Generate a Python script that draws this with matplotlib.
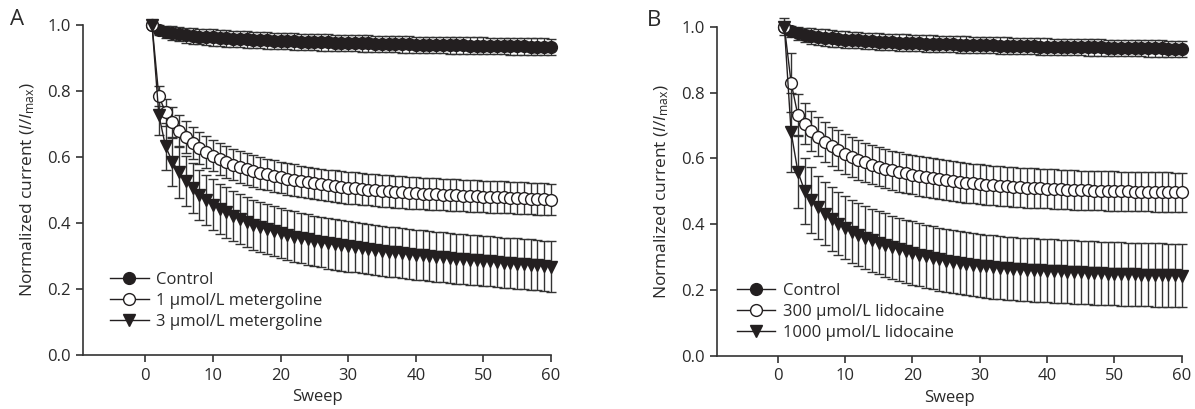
import numpy as np
import matplotlib
matplotlib.use('Agg')
import matplotlib.pyplot as plt

plt.rcParams['font.family'] = ['Open Sans', 'DejaVu Sans']
plt.rcParams['mathtext.fontset'] = 'custom'
plt.rcParams['mathtext.rm'] = 'Open Sans'
plt.rcParams['mathtext.it'] = 'Open Sans:italic'

sweeps = list(range(1, 61))

# panel A: metergoline
ctrl_a = [1.000, 0.985, 0.979, 0.975, 0.972, 0.969, 0.967, 0.965, 0.963, 0.962,
          0.960, 0.959, 0.958, 0.957, 0.956, 0.955, 0.954, 0.953, 0.952, 0.952,
          0.951, 0.950, 0.949, 0.949, 0.948, 0.947, 0.947, 0.946, 0.946, 0.945,
          0.945, 0.944, 0.944, 0.943, 0.943, 0.942, 0.942, 0.941, 0.941, 0.940,
          0.940, 0.940, 0.939, 0.939, 0.938, 0.938, 0.938, 0.937, 0.937, 0.937,
          0.936, 0.936, 0.936, 0.935, 0.935, 0.935, 0.934, 0.934, 0.934, 0.933]
ctrl_a_err = [0.005, 0.015, 0.019, 0.021, 0.022, 0.023, 0.024, 0.024, 0.025, 0.025] + [0.025] * 50

met1 = [1.000, 0.785, 0.735, 0.705, 0.680, 0.660, 0.643, 0.628, 0.615, 0.604,
        0.594, 0.585, 0.577, 0.570, 0.563, 0.557, 0.552, 0.547, 0.542, 0.538,
        0.534, 0.530, 0.526, 0.523, 0.520, 0.517, 0.514, 0.512, 0.509, 0.507,
        0.505, 0.503, 0.501, 0.499, 0.497, 0.496, 0.494, 0.493, 0.491, 0.490,
        0.489, 0.488, 0.487, 0.486, 0.485, 0.484, 0.483, 0.482, 0.481, 0.480,
        0.479, 0.478, 0.478, 0.477, 0.476, 0.475, 0.474, 0.473, 0.472, 0.471]
met1_err = [0.008, 0.030, 0.042, 0.046, 0.048] + [0.048] * 55

met3 = [1.000, 0.728, 0.632, 0.586, 0.553, 0.527, 0.505, 0.486, 0.470, 0.456,
        0.443, 0.432, 0.421, 0.412, 0.403, 0.395, 0.388, 0.381, 0.375, 0.369,
        0.364, 0.359, 0.354, 0.350, 0.346, 0.342, 0.338, 0.335, 0.332, 0.329,
        0.326, 0.323, 0.320, 0.318, 0.315, 0.313, 0.311, 0.308, 0.306, 0.304,
        0.302, 0.300, 0.298, 0.296, 0.294, 0.292, 0.290, 0.289, 0.287, 0.285,
        0.284, 0.282, 0.280, 0.279, 0.277, 0.275, 0.274, 0.272, 0.270, 0.268]
met3_err = [0.008, 0.060, 0.070, 0.075, 0.078] + [0.076] * 55

# panel B: lidocaine
ctrl_b = [1.000, 0.986, 0.980, 0.975, 0.972, 0.969, 0.967, 0.965, 0.963, 0.961,
          0.960, 0.959, 0.957, 0.956, 0.955, 0.954, 0.953, 0.952, 0.952, 0.951,
          0.950, 0.949, 0.949, 0.948, 0.947, 0.947, 0.946, 0.946, 0.945, 0.945,
          0.944, 0.944, 0.943, 0.943, 0.942, 0.942, 0.941, 0.941, 0.940, 0.940,
          0.939, 0.939, 0.939, 0.938, 0.938, 0.937, 0.937, 0.937, 0.936, 0.936,
          0.936, 0.935, 0.935, 0.935, 0.934, 0.934, 0.934, 0.933, 0.933, 0.933]
ctrl_b_err = [0.026, 0.016, 0.020, 0.022, 0.023] + [0.025] * 55

lido300 = [1.000, 0.830, 0.732, 0.705, 0.684, 0.666, 0.650, 0.637, 0.625, 0.614,
           0.604, 0.596, 0.588, 0.581, 0.575, 0.569, 0.564, 0.559, 0.555, 0.551,
           0.547, 0.543, 0.540, 0.537, 0.534, 0.531, 0.529, 0.526, 0.524, 0.522,
           0.520, 0.518, 0.517, 0.515, 0.514, 0.512, 0.511, 0.510, 0.509, 0.508,
           0.507, 0.506, 0.505, 0.504, 0.503, 0.503, 0.502, 0.502, 0.501, 0.501,
           0.500, 0.500, 0.499, 0.499, 0.499, 0.498, 0.498, 0.498, 0.497, 0.497]
lido300_err = [0.010, 0.090, 0.065, 0.062, 0.060] + [0.060] * 55

lido1000 = [1.000, 0.680, 0.560, 0.502, 0.475, 0.452, 0.432, 0.416, 0.402, 0.390,
            0.378, 0.368, 0.359, 0.351, 0.344, 0.337, 0.330, 0.324, 0.318, 0.313,
            0.308, 0.303, 0.298, 0.294, 0.290, 0.286, 0.283, 0.280, 0.277, 0.274,
            0.272, 0.270, 0.268, 0.266, 0.265, 0.263, 0.262, 0.261, 0.260, 0.259,
            0.258, 0.257, 0.256, 0.255, 0.254, 0.253, 0.252, 0.251, 0.250, 0.250,
            0.249, 0.248, 0.248, 0.247, 0.247, 0.246, 0.246, 0.245, 0.245, 0.244]
lido1000_err = [0.010, 0.120, 0.110, 0.100, 0.100] + [0.096] * 55

labels_a = ['Control', '1 μmol/L metergoline', '3 μmol/L metergoline']
labels_b = ['Control', '300 μmol/L lidocaine', '1000 μmol/L lidocaine']

ink = '#231f20'
txt = '#2a2a2a'

fig = plt.figure(figsize=(11.95, 4.09), dpi=100)
ax_a = fig.add_axes([0.0695, 0.132, 0.3916, 0.807])
ax_b = fig.add_axes([0.600, 0.1296, 0.389, 0.805])


def draw_panel(ax, series, labels, xmin, leg_anchor):
    styles = [dict(marker='o', mfc=ink, mec=ink),
              dict(marker='o', mfc='white', mec=ink),
              dict(marker='v', mfc=ink, mec=ink)]
    handles = []
    for (y, err), st, lab in zip(series, styles, labels):
        eb = ax.errorbar(sweeps, y, yerr=err, color=ink, lw=1.0, ms=8.5, mew=1.0,
                         elinewidth=1.0, capsize=3.5, capthick=1.0,
                         ecolor='#333333', label=lab, clip_on=False, **st)
        for art in eb.lines[1] + eb.lines[2]:
            art.set_clip_on(False)
        handles.append(eb)
    ax.set_xlim(xmin, 60)
    ax.set_ylim(0, 1.0)
    ax.set_xticks([0, 10, 20, 30, 40, 50, 60])
    ax.set_yticks([0.0, 0.2, 0.4, 0.6, 0.8, 1.0])
    ax.set_yticklabels(['0.0', '0.2', '0.4', '0.6', '0.8', '1.0'])
    for s in ['top', 'right']:
        ax.spines[s].set_visible(False)
    for s in ['left', 'bottom']:
        ax.spines[s].set_linewidth(1.2)
        ax.spines[s].set_color('#333333')
    ax.tick_params(direction='out', length=5, width=1.2, color='#333333',
                   labelsize=12, labelcolor=txt, pad=4)
    ax.set_xlabel('Sweep', fontsize=12, color=txt, labelpad=4)
    ax.set_ylabel(r'Normalized current ($\mathit{I}$/$\mathit{I}_{\mathrm{max}}$)',
                  fontsize=12.5, color=txt, labelpad=7)
    leg = ax.legend(handles=[h.lines[0] for h in handles], labels=labels,
                    loc='lower left', bbox_to_anchor=leg_anchor, frameon=False,
                    fontsize=12, handlelength=2.3, handletextpad=0.45,
                    labelspacing=0.3, borderpad=0, borderaxespad=0)
    for t in leg.get_texts():
        t.set_color(txt)


draw_panel(ax_a, [(ctrl_a, ctrl_a_err), (met1, met1_err), (met3, met3_err)],
           labels_a, -9.2, (0.058, 0.075))
draw_panel(ax_b, [(ctrl_b, ctrl_b_err), (lido300, lido300_err), (lido1000, lido1000_err)],
           labels_b, -9.0, (0.043, 0.045))

fig.text(0.008, 0.952, 'A', fontsize=16, color=txt, va='center')
fig.text(0.541, 0.950, 'B', fontsize=16, color=txt, va='center')

fig.savefig('out.png', dpi=100)
